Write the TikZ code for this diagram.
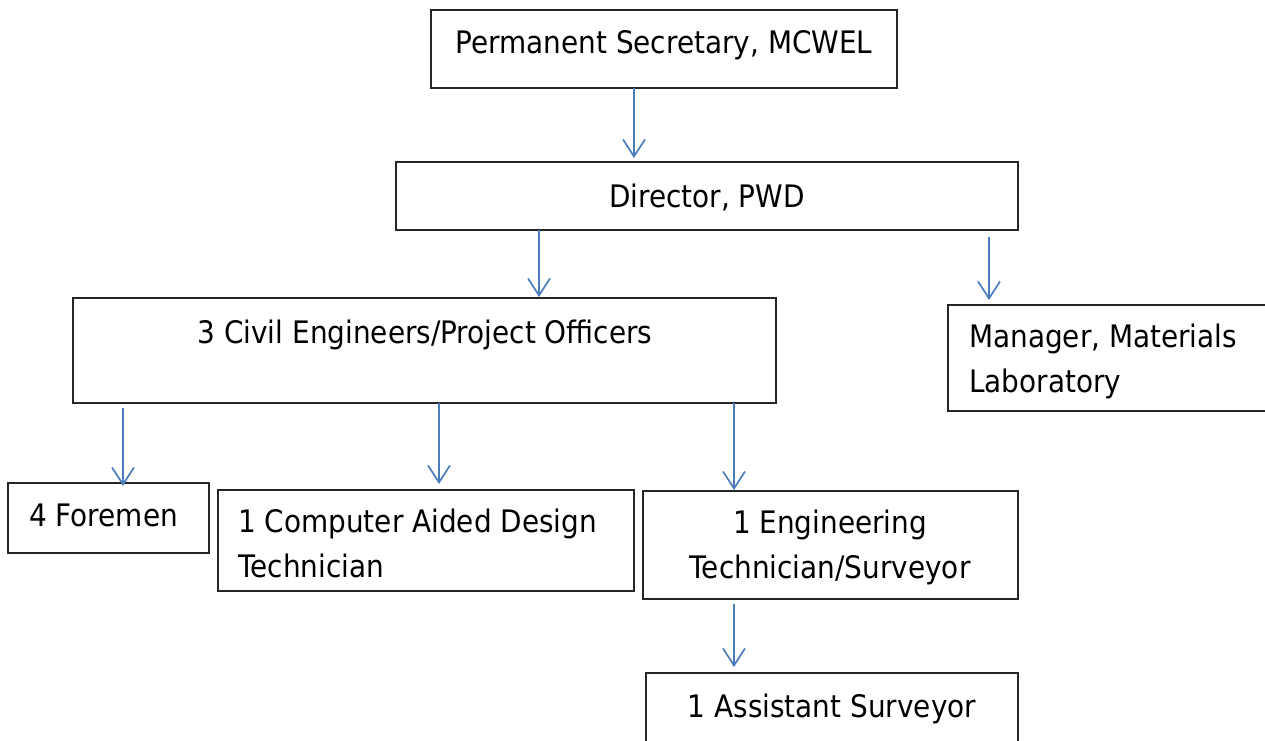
\documentclass[tikz,border=0pt]{standalone}
\usepackage{fontspec}
\setmainfont{DejaVu Sans}[FakeStretch=0.9]
\usetikzlibrary{arrows.meta}
\definecolor{linkblue}{RGB}{74,126,187}
\begin{document}
\begin{tikzpicture}[x=1pt,y=-1pt,
  box/.style={draw=black!85, line width=1.4pt, inner sep=0pt, outer sep=0pt,
              anchor=north west, rectangle},
  txt/.style={font=\fontsize{31}{45}\selectfont, inner sep=0pt, anchor=base},
  ltxt/.style={txt, anchor=base west},
  arr/.style={draw=linkblue, line width=1.7pt,
              -{Straight Barb[length=17pt,width=22pt]}}]
\useasboundingbox (0,0) rectangle (1265,740);
\clip (0,0) rectangle (1265,740);

% boxes
\node[box, minimum width=466pt, minimum height=78pt]  (ps)  at (431,10)  {};
\node[box, minimum width=622pt, minimum height=68pt]  (dir) at (396,162) {};
\node[box, minimum width=703pt, minimum height=105pt] (ce)  at (73,298)  {};
\node[box, minimum width=330pt, minimum height=106pt] (mgr) at (948,305) {};
\node[box, minimum width=201pt, minimum height=70pt]  (fm)  at (8,483)   {};
\node[box, minimum width=416pt, minimum height=101pt] (cad) at (218,490) {};
\node[box, minimum width=375pt, minimum height=108pt] (eng) at (643,491) {};
\node[box, minimum width=372pt, minimum height=80pt]  (as)  at (646,673) {};

% labels
\node[txt]  (pst)  at (664,53)  {Permanent Secretary, MCWEL};
\node[txt]  (dirt) at (707,207) {Director, PWD};
\node[txt]  (cet)  at (425,343) {3 Civil Engineers/Project Officers};
\node[ltxt] (mgt1) at (969,347) {Manager, Materials};
\node[ltxt] (mgt2) at (969,392) {Laboratory};
\node[ltxt] (fmt)  at (29,526)  {4 Foremen};
\node[ltxt] (cdt1) at (238,532) {1 Computer Aided Design};
\node[ltxt] (cdt2) at (238,577) {Technician};
\node[txt]  (ent1) at (830,533) {1 Engineering};
\node[txt]  (ent2) at (830,578) {Technician/Surveyor};
\node[txt]  (ast)  at (832,717) {1 Assistant Surveyor};

% connector columns
\coordinate (x1) at (634,0);
\coordinate (x2) at (539,0);
\coordinate (x3) at (989,0);
\coordinate (x4) at (123,0);
\coordinate (x5) at (439,0);
\coordinate (x6) at (734,0);

\draw[arr, shorten >=4pt]                 (ps.south -| x1)  -- (dir.north -| x1);
\draw[arr, shorten >=1pt]                 (dir.south -| x2) -- (ce.north -| x2);
\draw[arr, shorten <=7pt, shorten >=5pt]  (dir.south -| x3) -- (mgr.north -| x3);
\draw[arr, shorten <=5pt, shorten >=-3pt] (ce.south -| x4)  -- (fm.north -| x4);
\draw[arr, shorten >=6pt]                 (ce.south -| x5)  -- (cad.north -| x5);
\draw[arr, shorten >=1pt]                 (ce.south -| x6)  -- (eng.north -| x6);
\draw[arr, shorten <=5pt, shorten >=6pt]  (eng.south -| x6) -- (as.north -| x6);
\end{tikzpicture}
\end{document}
